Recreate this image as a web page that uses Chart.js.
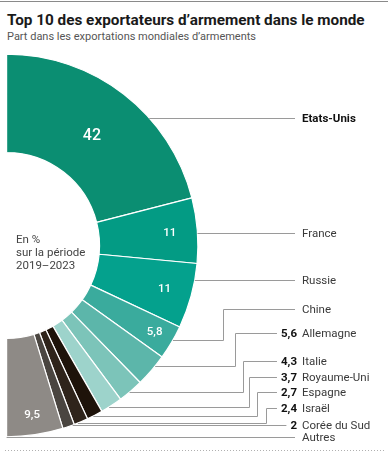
<!DOCTYPE html>
<html lang="fr">
<head>
    <meta charset="UTF-8">
    <title>Top 10 des exportateurs d'armement dans le monde</title>
    <script src="https://cdn.jsdelivr.net/npm/chart.js"></script>
    <style>
        body {
            margin: 0;
            background: #fff;
            font-family: Roboto, Arial, sans-serif;
        }
        #wrap {
            position: relative;
            width: 388px;
            height: 461px;
            overflow: hidden;
        }
        #topline {
            position: absolute;
            left: 0; top: 1px;
            width: 388px;
            border-top: 1px solid #8a8a8a;
        }
        h1 {
            position: absolute;
            left: 7px; top: 11px;
            margin: 0;
            font-size: 15.3px;
            font-weight: 700;
            color: #1a1a1a;
            white-space: nowrap;
        }
        h2 {
            position: absolute;
            left: 7px; top: 30px;
            margin: 0;
            font-size: 11px;
            font-weight: 400;
            color: #555;
            white-space: nowrap;
        }
        canvas {
            position: absolute;
            left: 0; top: 0;
        }
    </style>
</head>
<body>
<div id="wrap">
    <div id="topline"></div>
    <h1>Top 10 des exportateurs d’armement dans le monde</h1>
    <h2>Part dans les exportations mondiales d’armements</h2>
    <canvas id="chart" width="388" height="461"></canvas>
</div>

<script>
    // Données (en %, période 2019-2023)
    const pays = ['Etats-Unis', 'France', 'Russie', 'Chine', 'Allemagne', 'Italie',
                  'Royaume-Uni', 'Espagne', 'Israël', 'Corée du Sud', 'Autres'];
    const parts = [42, 11, 11, 5.8, 5.6, 4.3, 3.7, 2.7, 2.4, 2, 9.5];
    const couleurs = ['#0b8e72', '#039b84', '#04a18d', '#3aab9d', '#5cb6aa', '#7cc4b9',
                      '#9dd3cb', '#1e130a', '#2f241b', '#4a4540', '#8e8a86'];

    // valeurs affichées dans l'anneau / à côté du nom
    const dansAnneau = [0, 1, 2, 3, 10];
    const aCote = [4, 5, 6, 7, 8, 9];

    const fmt = v => String(v).replace('.', ',');

    // position des étiquettes (y de la ligne, coude, y du texte)
    const etiquettes = [
        { ty: 118 },
        { ty: 233 },
        { ty: 280 },
        { ly: 340, ex: 223, ty: 309 },
        { ly: 366, ex: 235, ty: 333 },
        { ly: 392, ex: 243, ty: 361 },
        { ly: 407, ex: 249, ty: 377 },
        { ly: 416, ex: 257, ty: 392 },
        { ly: 423, ex: 266, ty: 408 },
        { ty: 425 },
        { ty: 437 }
    ];
    // rayon relatif des valeurs dans l'anneau
    const rayonTexte = { 0: 0.47, 1: 0.72, 2: 0.72, 3: 0.8, 10: 0.8 };

    const etiquettesPlugin = {
        id: 'etiquettes',
        afterDraw(chart) {
            const ctx = chart.ctx;
            const arcs = chart.getDatasetMeta(0).data;
            ctx.save();

            // valeurs dans l'anneau
            ctx.fillStyle = '#fff';
            ctx.textAlign = 'center';
            ctx.textBaseline = 'middle';
            dansAnneau.forEach(i => {
                const a = arcs[i];
                const mid = (a.startAngle + a.endAngle) / 2;
                const r = a.innerRadius + (a.outerRadius - a.innerRadius) * rayonTexte[i];
                ctx.font = (i === 0 ? '500 16px' : '500 11.5px') + ' Roboto, Arial, sans-serif';
                ctx.fillText(fmt(parts[i]), a.x + Math.cos(mid) * r, a.y + Math.sin(mid) * r);
            });

            // lignes de rappel et noms
            const xNom = 302, xVal = 297;
            pays.forEach((nom, i) => {
                const a = arcs[i];
                const e = etiquettes[i];
                const ly = e.ly !== undefined ? e.ly : e.ty;
                const R = a.outerRadius;
                const x0 = a.x + Math.sqrt(Math.max(R * R - (ly - a.y) * (ly - a.y), 0));

                let xFin = 295;
                if (aCote.includes(i)) {
                    ctx.font = '700 11.5px Roboto, Arial, sans-serif';
                    xFin = xVal - ctx.measureText(fmt(parts[i])).width - 4;
                }

                ctx.strokeStyle = '#9a9a9a';
                ctx.lineWidth = 1;
                ctx.beginPath();
                ctx.moveTo(x0, ly + 0.5);
                if (e.ex !== undefined) {
                    ctx.lineTo(e.ex + 0.5, ly + 0.5);
                    ctx.lineTo(e.ex + 0.5, e.ty + 0.5);
                }
                ctx.lineTo(xFin, e.ty + 0.5);
                ctx.stroke();

                ctx.textBaseline = 'middle';
                if (aCote.includes(i)) {
                    ctx.textAlign = 'right';
                    ctx.fillStyle = '#111';
                    ctx.font = '700 11.5px Roboto, Arial, sans-serif';
                    ctx.fillText(fmt(parts[i]), xVal, e.ty + 1);
                }
                ctx.textAlign = 'left';
                ctx.fillStyle = i === 0 ? '#111' : '#3a3a3a';
                ctx.font = (i === 0 ? '700' : '400') + ' 11.5px Roboto, Arial, sans-serif';
                ctx.fillText(nom, xNom, e.ty + 1);
            });

            // texte au centre
            ctx.fillStyle = '#444';
            ctx.font = '400 11.5px Roboto, Arial, sans-serif';
            ctx.textAlign = 'left';
            ['En %', 'sur la période', '2019–2023'].forEach((t, k) => {
                ctx.fillText(t, 16, 240 + k * 13);
            });

            // pointillés en bas
            ctx.strokeStyle = '#b0b0b0';
            ctx.setLineDash([1, 2]);
            ctx.beginPath();
            ctx.moveTo(5, 450.5);
            ctx.lineTo(385, 450.5);
            ctx.stroke();
            ctx.restore();
        }
    };

    new Chart(document.getElementById('chart'), {
        type: 'doughnut',
        data: {
            labels: pays,
            datasets: [{
                data: parts,
                backgroundColor: couleurs,
                borderColor: '#fff',
                borderWidth: 1.2
            }]
        },
        options: {
            responsive: false,
            animation: false,
            rotation: 0,
            circumference: 180,
            cutout: '48.6%',
            layout: { padding: { left: 6, right: 189.5, top: 53, bottom: 23 } },
            plugins: {
                legend: { display: false },
                tooltip: { enabled: false }
            }
        },
        plugins: [etiquettesPlugin]
    });
</script>
</body>
</html>
